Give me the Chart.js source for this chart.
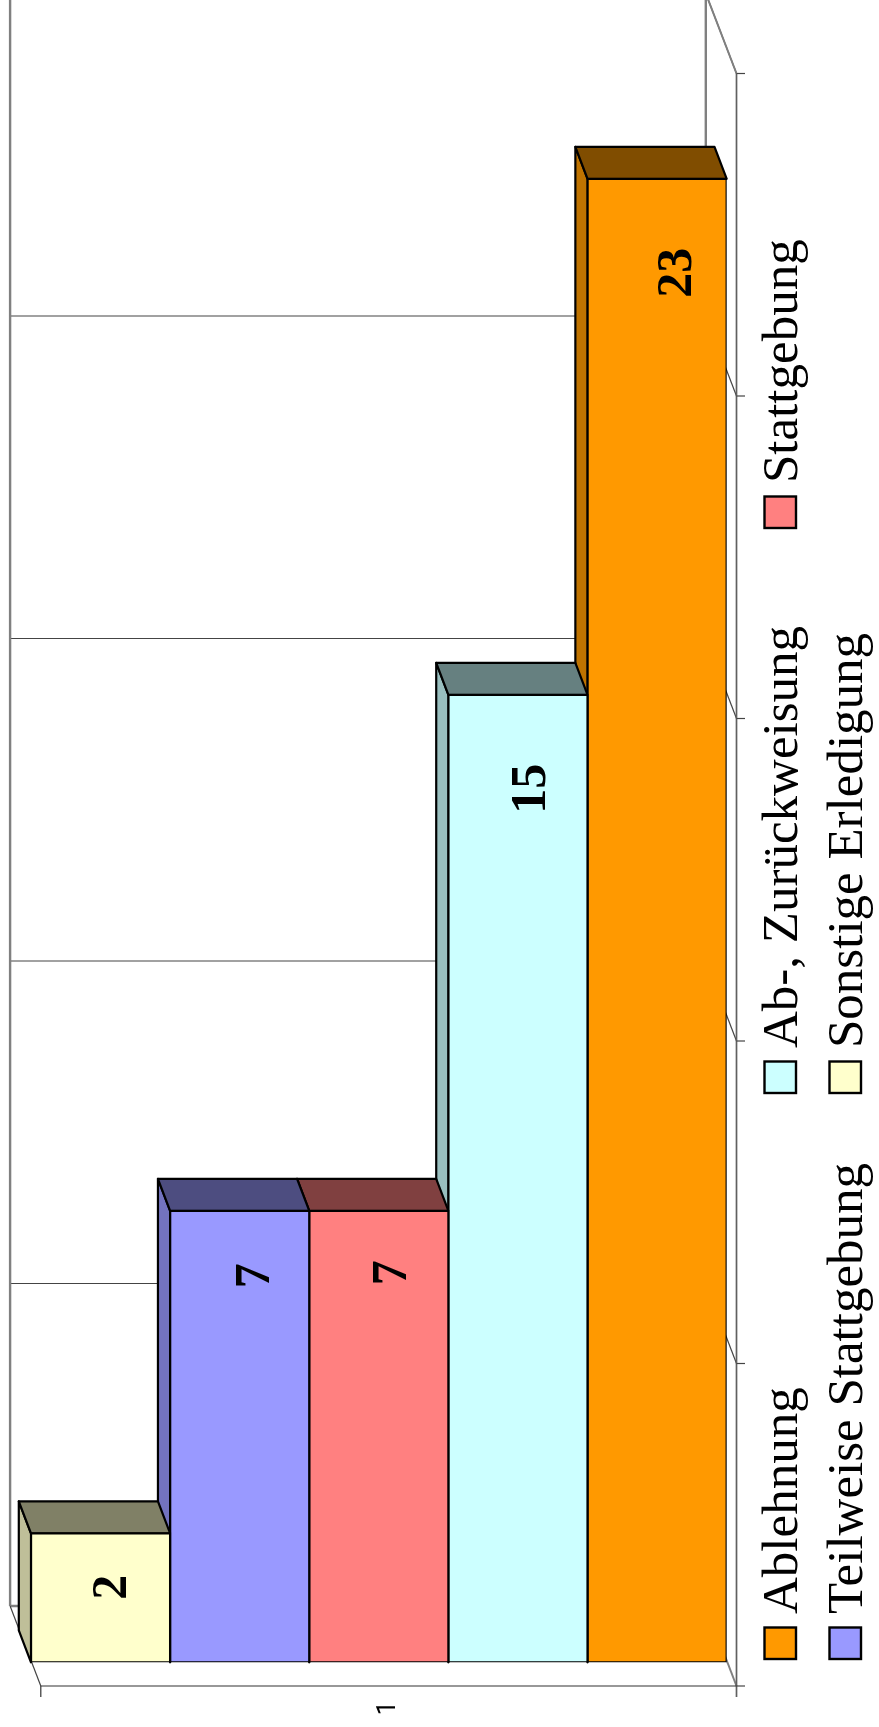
<!DOCTYPE html>
<html><head><meta charset="utf-8">
<style>html,body{margin:0;padding:0;background:#fff;overflow:hidden}canvas{display:block}</style>
<script src="https://cdn.jsdelivr.net/npm/chart.js@4"></script>
</head><body><canvas id="c" width="879" height="1727"></canvas>
<script>
const categories = ['1'];
const seriesNames = ['Sonstige Erledigung','Teilweise Stattgebung','Stattgebung','Ab-, Zurückweisung','Ablehnung'];
const seriesValues = [[2],[7],[7],[15],[23]];
const frontColors = ['#FFFFCC','#9999FF','#FF8080','#CCFFFF','#FF9900'];
const sideColors  = ['#BFBF99','#7373BF','#BF6060','#99BFBF','#BF7300'];
const topColors   = ['#808066','#4D4D80','#804040','#668080','#804D00'];
const valueTicks = [0,5,10,15,20,25];

// style / placement
const BAR_D = {x:-12.2,y:-32};
const FLOOR = {x:9.8,y:23.7};      // front of floor relative to the plot area
const WALL  = {x:-30.7,y:-80};     // back wall relative to the front of the floor
const labelNudge = [[13,54],[16,65],[14,62],[14.5,94],[21,94]];
const legendPlace = [ // swatch-bottom y, column x, series index
  {s:4,col:0,yb:1659},{s:3,col:0,yb:1093},{s:2,col:0,yb:528},{s:1,col:1,yb:1659},{s:0,col:1,yb:1093}];
const legendCols = [{x0:764.5,base:797},{x0:829.5,base:862}];

function poly(ctx,pts,fill){ctx.beginPath();pts.forEach((p,i)=>i?ctx.lineTo(p[0],p[1]):ctx.moveTo(p[0],p[1]));ctx.closePath();ctx.fillStyle=fill;ctx.fill();ctx.stroke();}
function line(ctx,x1,y1,x2,y2,col,w){ctx.beginPath();ctx.moveTo(x1,y1);ctx.lineTo(x2,y2);ctx.strokeStyle=col;ctx.lineWidth=w;ctx.stroke();}

const threeD = {
  id:'threeD',
  beforeDatasetsDraw(chart){
    const ctx=chart.ctx, y=chart.scales.y, a=chart.chartArea;
    const fx0=a.left+FLOOR.x, fx1=a.right+FLOOR.x;
    const wx0=fx0+WALL.x, wx1=fx1+WALL.x;
    const fy=v=>y.getPixelForValue(v)+FLOOR.y;
    ctx.save();
    // grid lines on the back wall and side wall
    valueTicks.forEach(v=>{
      if(v!==0) line(ctx,wx0,fy(v)+WALL.y,wx1,fy(v)+WALL.y,'#444',1.2);
      if(v!==0) line(ctx,wx1,fy(v)+WALL.y,fx1,fy(v),'#444',1.2);
    });
    // back wall
    line(ctx,wx0,fy(25)+WALL.y,wx0,fy(0)+WALL.y,'#808080',2.4);
    line(ctx,wx1,fy(25)+WALL.y,wx1,fy(0)+WALL.y,'#808080',2.4);
    line(ctx,wx0,fy(0)+WALL.y,wx1,fy(0)+WALL.y,'#808080',2.4);
    line(ctx,wx1,fy(25)+WALL.y,fx1,fy(25),'#808080',2);
    line(ctx,wx1,fy(0)+WALL.y,fx1,fy(0),'#808080',2);
    line(ctx,wx0,fy(0)+WALL.y,fx0,fy(0),'#444',1.2);
    // front axes
    line(ctx,fx1,fy(25),fx1,fy(0)+11,'#606060',1.7);
    line(ctx,fx0,fy(0),fx1,fy(0),'#333',1.2);
    line(ctx,fx0,fy(0),fx0,fy(0)+11,'#333',1.2);
    valueTicks.forEach(v=>line(ctx,fx1,fy(v),fx1+8.5,fy(v),'#444',1.2));
    // depth faces of the bars, far side first
    ctx.strokeStyle='#000';ctx.lineWidth=2.2;ctx.lineJoin='round';
    for(let i=chart.data.datasets.length-1;i>=0;i--){
      const b=chart.getDatasetMeta(i).data[0];
      const L=b.x-b.width/2,R=b.x+b.width/2,T=b.y,B=b.base;
      poly(ctx,[[L,T],[L+BAR_D.x,T+BAR_D.y],[L+BAR_D.x,B+BAR_D.y],[L,B]],sideColors[i]);
      poly(ctx,[[L,T],[R,T],[R+BAR_D.x,T+BAR_D.y],[L+BAR_D.x,T+BAR_D.y]],topColors[i]);
    }
    ctx.restore();
  },
  afterDatasetsDraw(chart){
    const ctx=chart.ctx;
    ctx.save();
    // value labels
    ctx.fillStyle='#000';ctx.font='bold 50px "Liberation Serif"';ctx.textAlign='center';ctx.textBaseline='middle';
    chart.data.datasets.forEach((d,i)=>{
      const b=chart.getDatasetMeta(i).data[0];
      ctx.save();ctx.translate(b.x+labelNudge[i][0],b.y+labelNudge[i][1]);ctx.rotate(-Math.PI/2);
      ctx.fillText(String(d.data[0]),0,0);ctx.restore();
    });
    // legend
    legendPlace.forEach(p=>{
      const c=legendCols[p.col];
      ctx.lineWidth=2.4;ctx.strokeStyle='#000';ctx.fillStyle=frontColors[p.s];
      ctx.fillRect(c.x0,p.yb-31.5,31.5,31.5);ctx.strokeRect(c.x0,p.yb-31.5,31.5,31.5);
      ctx.save();ctx.translate(c.base,p.yb-45);ctx.rotate(-Math.PI/2);
      ctx.font='51px "Liberation Serif"';ctx.textAlign='left';ctx.textBaseline='alphabetic';ctx.fillStyle='#000';
      ctx.fillText(seriesNames[p.s],0,0);ctx.restore();
    });
    ctx.restore();
  }
};

new Chart(document.getElementById('c'),{
  type:'bar',
  data:{labels:categories,datasets:seriesNames.map((n,i)=>({
    label:n,data:seriesValues[i],backgroundColor:frontColors[i],borderColor:'#000',borderWidth:2.3,inflateAmount:1.15,borderSkipped:false
  }))},
  options:{
    responsive:false,animation:false,
    layout:{padding:{left:31,right:152.3,top:49.8,bottom:0}},
    plugins:{legend:{display:false},tooltip:{enabled:false}},
    scales:{
      x:{grid:{display:false},border:{display:false},
         afterFit(s){s.height=64.7;},
         ticks:{minRotation:90,maxRotation:90,padding:31,labelOffset:10,color:'#000',font:{family:'Roboto',size:25}}},
      y:{min:0,max:25,position:'right',grid:{display:false},border:{display:false},
         afterFit(s){s.width=0;},
         ticks:{display:false,stepSize:5}}
    },
    datasets:{bar:{barPercentage:1,categoryPercentage:1}}
  },
  plugins:[threeD]
});
</script></body></html>
